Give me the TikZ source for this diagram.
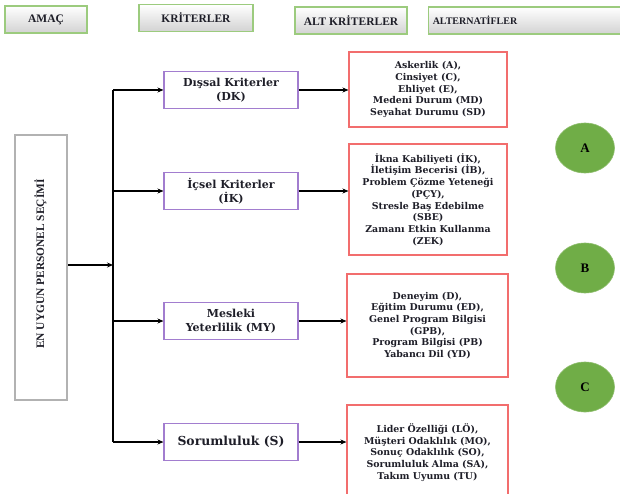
\documentclass[tikz,border=0pt]{standalone}
\usepackage{fontspec}
\setmainfont{DejaVu Serif}
\newfontfamily\hdrfont{Liberation Serif}
\usetikzlibrary{shapes.geometric,arrows.meta}
\definecolor{hdrgreen}{HTML}{9CCB7E}
\definecolor{critpurple}{HTML}{A27DCF}
\definecolor{subred}{HTML}{F26D6D}
\definecolor{altgreen}{HTML}{70AD47}
\definecolor{txt}{HTML}{1E1E28}
\tikzset{
  hdr/.style={draw=hdrgreen, line width=1.2pt, top color=white, bottom color=gray!35,
    minimum height=27pt, inner sep=0pt, font=\hdrfont\bfseries\fontsize{11.5}{13}\selectfont, text=txt},
  goalbox/.style={draw=gray!60, line width=2.6pt, fill=white, minimum width=52pt, minimum height=265pt, inner sep=0pt},
  crit/.style={draw=critpurple, line width=1.1pt, fill=white, minimum width=134pt, minimum height=37pt,
    inner sep=0pt, align=center, text=txt, font=\bfseries\fontsize{11}{14}\selectfont},
  sub/.style={draw=subred, line width=1.1pt, fill=white, minimum width=158pt, inner sep=0pt,
    align=center, text=txt, font=\bfseries\fontsize{9.4}{11.7}\selectfont},
  alt/.style={ellipse, fill=altgreen, draw=altgreen!80!white, line width=0.6pt, minimum width=59pt, minimum height=50pt,
    inner sep=0pt, font=\hdrfont\bfseries\fontsize{13}{15}\selectfont, text=black},
  arr/.style={draw=black, line width=1.4pt, -{Stealth[length=6pt,width=5pt]}},
  ln/.style={draw=black, line width=1.4pt}
}
\begin{document}
\begin{tikzpicture}[x=1pt,y=-1pt]
\useasboundingbox[fill=white] (0,0) rectangle (620,494);
% headers
\node[hdr, minimum width=82pt] (amac) at (46,19.5) {AMAÇ};
\node[hdr, minimum width=114pt] (krit) at (196,18) {KRİTERLER};
\node[hdr, minimum width=112pt] (altk) at (351,20.5) {ALT KRİTERLER};
\node[hdr, minimum width=215pt, anchor=west] (alter) at (428,20.5) {};
\node[font=\hdrfont\bfseries\fontsize{10}{11}\selectfont, text=txt, inner sep=0pt] (alterlbl) at (475,20.5) {ALTERNATİFLER};
% goal
\node[goalbox] (goal) at (41,267.5) {};
\node[rotate=90, font=\hdrfont\bfseries\fontsize{11.4}{12}\selectfont, text=txt, inner sep=0pt] (goallbl) at (40.5,264) {EN UYGUN PERSONEL SEÇİMİ};
% criteria
\node[crit] (dk) at (231,90) {Dışsal Kriterler\\(DK)};
\node[crit] (ik) at (231,191) {İçsel Kriterler\\(İK)};
\node[crit] (my) at (231,321) {Mesleki\\Yeterlilik (MY)};
\node[crit, font=\bfseries\fontsize{12.4}{14}\selectfont] (s) at (231,442) {Sorumluluk (S)};
% sub criteria
\node[sub, minimum height=75pt] (s1) at (428,89.5) {Askerlik (A),\\Cinsiyet (C),\\Ehliyet (E),\\Medeni Durum (MD)\\Seyahat Durumu (SD)};
\node[sub, minimum height=111pt] (s2) at (428,199.5) {İkna Kabiliyeti (İK),\\İletişim Becerisi (İB),\\Problem Çözme Yeteneği\\(PÇY),\\Stresle Baş Edebilme\\(SBE)\\Zamanı Etkin Kullanma\\(ZEK)};
\node[sub, minimum height=103pt, minimum width=161pt] (s3) at (427.5,325.5) {Deneyim (D),\\Eğitim Durumu (ED),\\Genel Program Bilgisi\\(GPB),\\Program Bilgisi (PB)\\Yabancı Dil (YD)};
\node[sub, minimum height=95pt, minimum width=161pt] (s4) at (427.5,452.5) {Lider Özelliği (LÖ),\\Müşteri Odaklılık (MO),\\Sonuç Odaklılık (SO),\\Sorumluluk Alma (SA),\\Takım Uyumu (TU)};
% alternatives
\node[alt] (a) at (585,148) {A};
\node[alt] (b) at (585,268) {B};
\node[alt] (c) at (585,387) {C};
% connectors
\coordinate (tr) at (113,0);
\coordinate (gy) at (0,265);
\draw[arr] (goal.east |- gy) -- (tr |- gy);
\draw[ln] (dk.west -| tr) -- (s.west -| tr);
\draw[arr] (dk.west -| tr) -- (dk.west);
\draw[arr] (ik.west -| tr) -- (ik.west);
\draw[arr] (my.west -| tr) -- (my.west);
\draw[arr] (s.west -| tr) -- (s.west);
\draw[arr] (dk.east) -- (dk.east -| s1.west);
\draw[arr] (ik.east) -- (ik.east -| s2.west);
\draw[arr] (my.east) -- (my.east -| s3.west);
\draw[arr] (s.east) -- (s.east -| s4.west);
\end{tikzpicture}
\end{document}
